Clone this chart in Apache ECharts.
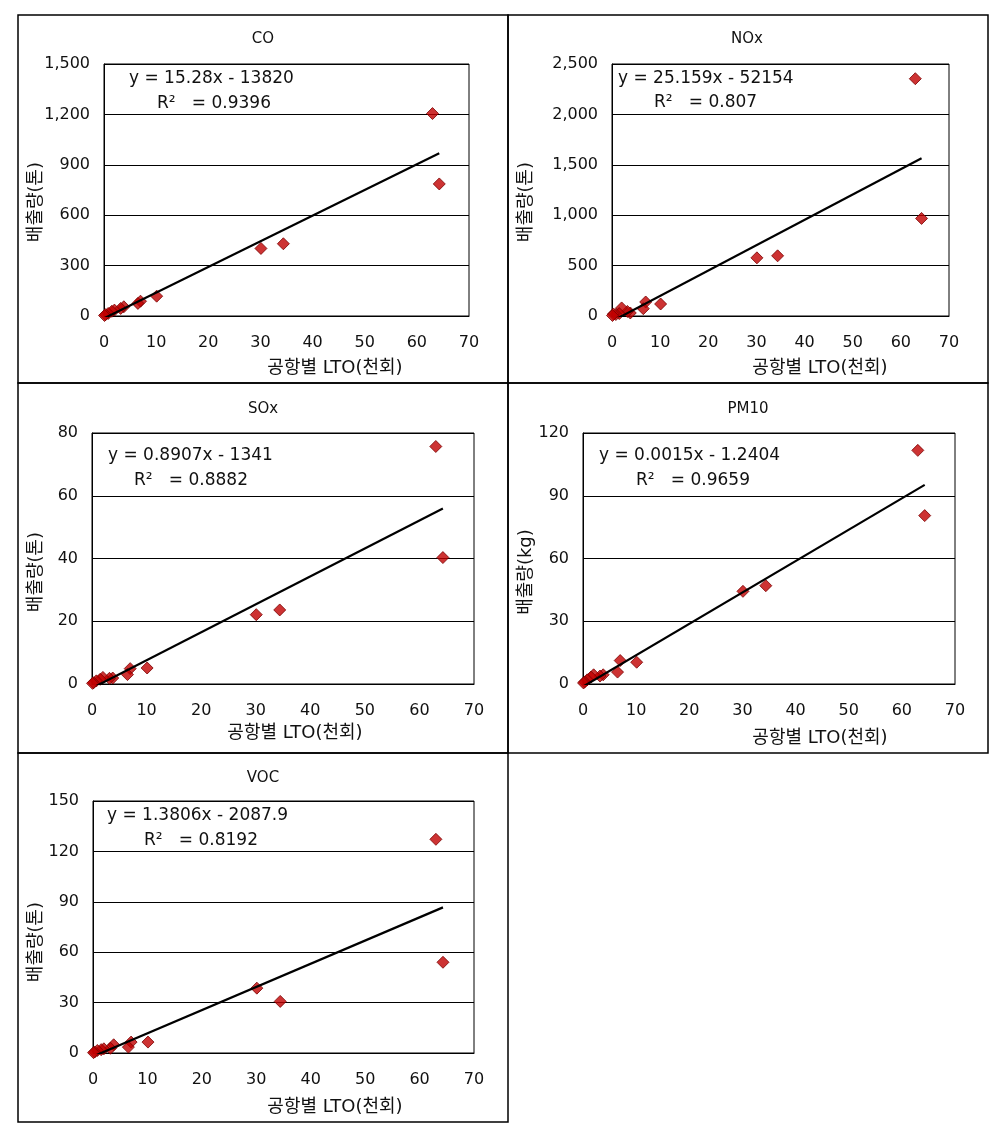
<!DOCTYPE html>
<html>
<head>
<meta charset="utf-8">
<title>공항별 LTO와 오염물질 배출량</title>
<script src="https://cdn.jsdelivr.net/npm/echarts@6/dist/echarts.min.js"></script>
<style>
html, body { margin: 0; padding: 0; background: #fff; }
#chart { width: 1002px; height: 1130px; }
</style>
</head>
<body>
<div id="chart"></div>
<script>
// 공항별 LTO (천회)
const lto = [63.0, 64.3, 30.1, 34.4, 10.1, 7.0, 6.5, 3.8, 3.2, 2.0, 1.5, 0.8, 0.3, 0.1];

// 배출량 (PM10 은 kg, 나머지는 톤)
const coData = [1205, 786, 402, 430, 118, 88, 75, 55, 45, 35, 28, 15, 8, 3];
const noxData = [2354, 968, 577, 597, 119, 139, 73, 30, 45, 80, 24, 15, 20, 5];
const soxData = [75.7, 40.3, 22.1, 23.6, 5.1, 4.9, 3.0, 1.9, 1.8, 2.1, 1.5, 1.0, 0.4, 0.2];
const pm10Data = [111.7, 80.5, 44.3, 47.0, 10.4, 11.2, 5.7, 4.4, 3.8, 4.4, 3.3, 2.0, 1.0, 0.5];
const vocData = [127.2, 54.0, 38.6, 30.7, 6.5, 6.5, 3.5, 4.9, 2.8, 2.5, 2.0, 1.5, 0.6, 0.2];

const pollutants = ['CO', 'NOx', 'SOx', 'PM10', 'VOC'];
const yNames = ['배출량(톤)', '배출량(톤)', '배출량(톤)', '배출량(kg)', '배출량(톤)'];
const yMax = [1500, 2500, 80, 120, 150];
const yStep = [300, 500, 20, 30, 30];
const xMax = 70;
const xStep = 10;
const xName = '공항별 LTO(천회)';

// 추세선 (x 단위: 천회)
const slopes = [15.28, 25.159, 0.8907, 1.5, 1.3806];
const intercepts = [-13.82, -52.154, -1.341, -1.2404, -2.0879];
const eqLabels = ['y = 15.28x - 13820', 'y = 25.159x - 52154', 'y = 0.8907x - 1341', 'y = 0.0015x - 1.2404', 'y = 1.3806x - 2087.9'];
const r2Labels = ['0.9396', '0.807', '0.8882', '0.9659', '0.8192'];

const allData = [coData, noxData, soxData, pm10Data, vocData];

// 패널 배치
const layout = [
  { frame: [18, 15, 490, 368], grid: [104, 64, 365, 252], title: [263, 39], xName: [335, 368], yName: [36, 202], eq: [129, 79], r2: [157, 104] },
  { frame: [508, 15, 480, 368], grid: [612, 64, 337, 252], title: [747, 39], xName: [820, 368], yName: [526, 202], eq: [618, 79], r2: [654, 103] },
  { frame: [18, 383, 490, 370], grid: [92, 433, 382, 251], title: [263, 409], xName: [295, 733], yName: [36, 572], eq: [108, 456], r2: [134, 481] },
  { frame: [508, 383, 480, 370], grid: [583, 433, 372, 251], title: [748, 409], xName: [820, 738], yName: [526, 572], eq: [599, 456], r2: [636, 481] },
  { frame: [18, 753, 490, 369], grid: [93, 801, 381, 252], title: [263, 778], xName: [335, 1107], yName: [36, 942], eq: [107, 816], r2: [144, 841] }
];

const fontFamily = "'DejaVu Sans', 'Noto Sans CJK KR', sans-serif";
const textColor = '#111';

function text(x, y, str, size, align, extra) {
  return Object.assign({
    type: 'text',
    x: x,
    y: y,
    z: 10,
    style: {
      text: str,
      fontSize: size,
      fontFamily: fontFamily,
      fill: textColor,
      align: align,
      verticalAlign: 'middle'
    }
  }, extra || {});
}

let myChart = echarts.init(document.getElementById('chart'));

let grids = [];
let xAxes = [];
let yAxes = [];
let series = [];
let graphics = [];

layout.forEach((l, i) => {
  grids.push({
    left: l.grid[0],
    top: l.grid[1],
    width: l.grid[2],
    height: l.grid[3],
    show: true,
    borderColor: '#000',
    borderWidth: 1,
    backgroundColor: '#fff',
    outerBoundsMode: 'none'
  });

  xAxes.push({
    type: 'value',
    gridIndex: i,
    min: 0,
    max: xMax,
    interval: xStep,
    axisLine: { show: true, lineStyle: { color: '#000', width: 1 } },
    axisTick: { show: false },
    splitLine: { show: false },
    axisLabel: { margin: 19, fontSize: 16, fontFamily: fontFamily, color: textColor }
  });

  yAxes.push({
    type: 'value',
    gridIndex: i,
    min: 0,
    max: yMax[i],
    interval: yStep[i],
    axisLine: { show: true, lineStyle: { color: '#000', width: 1 } },
    axisTick: { show: false },
    splitLine: { show: true, lineStyle: { color: '#000', width: 1 } },
    axisLabel: {
      margin: 14,
      fontSize: 16,
      fontFamily: fontFamily,
      color: textColor,
      formatter: v => v.toLocaleString('en-US')
    }
  });

  let vals = allData[i];
  series.push({
    name: pollutants[i],
    type: 'scatter',
    xAxisIndex: i,
    yAxisIndex: i,
    symbol: 'diamond',
    symbolSize: 12,
    itemStyle: { color: '#c00000', borderColor: '#7a0000', borderWidth: 1 },
    data: lto.map((x, j) => [x, vals[j]]),
    z: 2
  });

  // 선형 추세선: 자료의 최소~최대 LTO 구간
  let x0 = Math.min(...lto);
  let x1 = Math.max(...lto);
  series.push({
    name: pollutants[i] + ' 추세선',
    type: 'line',
    xAxisIndex: i,
    yAxisIndex: i,
    symbol: 'none',
    clip: true,
    lineStyle: { color: '#000', width: 2.2 },
    data: [[x0, slopes[i] * x0 + intercepts[i]], [x1, slopes[i] * x1 + intercepts[i]]],
    z: 3
  });

  graphics.push({
    type: 'rect',
    shape: { x: l.frame[0], y: l.frame[1], width: l.frame[2], height: l.frame[3] },
    style: { fill: 'none', stroke: '#000', lineWidth: 1.5 },
    z: 0
  });
  graphics.push(text(l.title[0], l.title[1], pollutants[i], 15, 'center'));
  graphics.push(text(l.xName[0], l.xName[1], xName, 18, 'center'));
  graphics.push(text(l.yName[0], l.yName[1], yNames[i], 18, 'center', { rotation: Math.PI / 2 }));
  graphics.push(text(l.eq[0], l.eq[1], eqLabels[i], 17, 'left'));
  graphics.push(text(l.r2[0], l.r2[1], 'R²   = ' + r2Labels[i], 17, 'left'));
});

let option = {
  backgroundColor: '#fff',
  animation: false,
  grid: grids,
  xAxis: xAxes,
  yAxis: yAxes,
  series: series,
  graphic: graphics
};

myChart.setOption(option, true);

window.addEventListener('resize', () => {
  myChart.resize();
});
</script>
</body>
</html>
